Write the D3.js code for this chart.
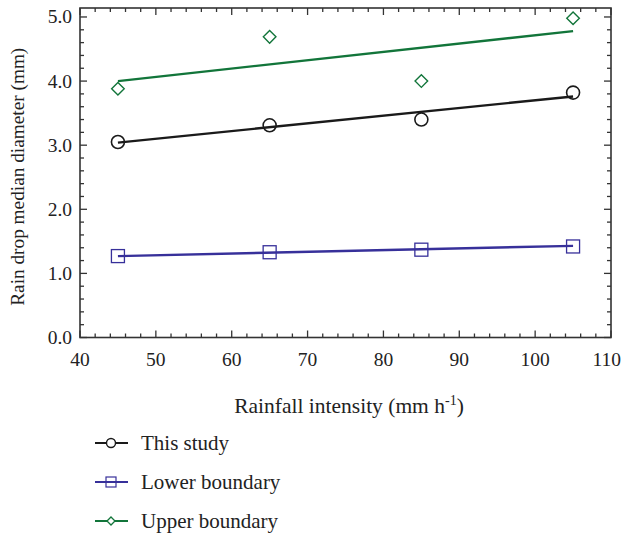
<!DOCTYPE html>
<html>
<head>
<meta charset="utf-8">
<script src="https://cdn.jsdelivr.net/npm/d3@7"></script>
<style>
  body { margin: 0; background: #fff; }
  text { font-family: "Liberation Serif", "DejaVu Serif", serif; fill: #222; }
</style>
</head>
<body>
<svg width="622" height="535"></svg>
<script>
// rainfall intensity (mm/h)
const intensity = [45, 65, 85, 105]

// measured / reported median diameters (mm)
const thisStudy = [3.05, 3.31, 3.40, 3.82]
const lowerBound = [1.27, 1.33, 1.37, 1.42]
const upperBound = [3.88, 4.69, 4.00, 4.98]

// fitted trend lines, [x, y] at ends
const fitThis = [[45, 3.04], [105, 3.76]]
const fitLower = [[45, 1.27], [105, 1.43]]
const fitUpper = [[45, 4.00], [105, 4.78]]

const xTicks = [40, 50, 60, 70, 80, 90, 100, 110]
const yTicks = [0, 1, 2, 3, 4, 5]

const series = [
    { name: "This study", values: thisStudy, fit: fitThis, color: "#1a1a1a", shape: "circle" },
    { name: "Lower boundary", values: lowerBound, fit: fitLower, color: "#37309a", shape: "square" },
    { name: "Upper boundary", values: upperBound, fit: fitUpper, color: "#12753a", shape: "diamond" }
]

const svg = d3.select("svg")
const pLeft = 80, pRight = 611, pTop = 8, pBottom = 337.5

const x = d3.scaleLinear().domain([40, 110]).range([pLeft, pRight])
const y = d3.scaleLinear().domain([0, 5.14]).range([pBottom, pTop])

const g = svg.append("g")

// ticks pointing inward on all four sides
const xMinor = d3.range(40, 110.01, 2)
const yMinor = d3.range(0, 5.141, 0.2)

function tickLines(vals, isMajor, horiz) {
    vals.forEach(v => {
        let len = isMajor(v) ? 7 : 4
        if (horiz) {
            g.append("line").attr("x1", x(v)).attr("x2", x(v)).attr("y1", pBottom).attr("y2", pBottom - len)
                .attr("stroke", "#333").attr("stroke-width", 1.3)
            g.append("line").attr("x1", x(v)).attr("x2", x(v)).attr("y1", pTop).attr("y2", pTop + len)
                .attr("stroke", "#333").attr("stroke-width", 1.3)
        } else {
            g.append("line").attr("y1", y(v)).attr("y2", y(v)).attr("x1", pLeft).attr("x2", pLeft + len)
                .attr("stroke", "#333").attr("stroke-width", 1.3)
            g.append("line").attr("y1", y(v)).attr("y2", y(v)).attr("x1", pRight).attr("x2", pRight - len)
                .attr("stroke", "#333").attr("stroke-width", 1.3)
        }
    })
}
tickLines(xMinor, v => Math.abs(v % 10) < 0.01, true)
tickLines(yMinor, v => Math.abs(v - Math.round(v)) < 0.01, false)

g.append("rect")
    .attr("x", pLeft).attr("y", pTop)
    .attr("width", pRight - pLeft).attr("height", pBottom - pTop)
    .attr("fill", "none").attr("stroke", "#333").attr("stroke-width", 1.6)

// tick labels
g.selectAll(".xl").data(xTicks).join("text")
    .attr("class", "xl")
    .attr("x", d => x(d)).attr("y", pBottom + 28)
    .attr("text-anchor", "middle").attr("font-size", 19.5)
    .text(d => d)

// keep the last label inside the page
g.selectAll(".xl").each(function () {
    let b = this.getBBox()
    if (b.x + b.width > 621) {
        d3.select(this).attr("x", +d3.select(this).attr("x") - (b.x + b.width - 621))
    }
})

g.selectAll(".yl").data(yTicks).join("text")
    .attr("class", "yl")
    .attr("x", pLeft - 8).attr("y", d => y(d) + 6.5)
    .attr("text-anchor", "end").attr("font-size", 19.5)
    .text(d => d.toFixed(1))

// axis titles
const xt = svg.append("text")
    .attr("x", 349).attr("y", 413)
    .attr("text-anchor", "middle").attr("font-size", 21.5)
xt.append("tspan").text("Rainfall intensity (mm h")
xt.append("tspan").attr("font-size", 14).attr("dy", -8).text("-1")
xt.append("tspan").attr("dy", 8).text(")")

svg.append("text")
    .attr("transform", `translate(24, ${(pTop + pBottom) / 2 + 4}) rotate(-90)`)
    .attr("text-anchor", "middle").attr("font-size", 19.3)
    .text("Rain drop median diameter (mm)")

function drawMarker(sel, shape, color, cx, cy) {
    if (shape == "circle") {
        sel.append("circle").attr("cx", cx).attr("cy", cy).attr("r", 6.5)
            .attr("fill", "none").attr("stroke", color).attr("stroke-width", 1.6)
    } else if (shape == "square") {
        sel.append("rect").attr("x", cx - 6.5).attr("y", cy - 6.5).attr("width", 13).attr("height", 13)
            .attr("fill", "none").attr("stroke", color).attr("stroke-width", 1.3)
    } else {
        let s = 6.3
        sel.append("path").attr("d", `M${cx},${cy - s}L${cx + s},${cy}L${cx},${cy + s}L${cx - s},${cy}Z`)
            .attr("fill", "none").attr("stroke", color).attr("stroke-width", 1.4)
    }
}

const line = d3.line().x(d => x(d[0])).y(d => y(d[1]))

series.forEach(s => {
    g.append("path").attr("d", line(s.fit))
        .attr("fill", "none").attr("stroke", s.color).attr("stroke-width", 2.4)
    s.values.forEach((v, i) => drawMarker(g, s.shape, s.color, x(intensity[i]), y(v)))
})

// legend
const legend = svg.append("g")
series.forEach((s, i) => {
    let ly = 443 + i * 39
    legend.append("line").attr("x1", 95).attr("x2", 128).attr("y1", ly).attr("y2", ly)
        .attr("stroke", s.color).attr("stroke-width", 2)
    let m = legend.append("g")
    if (s.shape == "circle") {
        m.append("circle").attr("cx", 111).attr("cy", ly).attr("r", 4.5)
            .attr("fill", "#fff").attr("stroke", s.color).attr("stroke-width", 1.4)
    } else if (s.shape == "square") {
        m.append("rect").attr("x", 106).attr("y", ly - 5).attr("width", 10).attr("height", 10)
            .attr("fill", "none").attr("stroke", s.color).attr("stroke-width", 1.2)
    } else {
        m.append("path").attr("d", `M111,${ly - 4}L115,${ly}L111,${ly + 4}L107,${ly}Z`)
            .attr("fill", "#fff").attr("stroke", s.color).attr("stroke-width", 1.3)
    }
    legend.append("text").attr("x", 141).attr("y", ly + 6.5).attr("font-size", 21).text(s.name)
})
</script>
</body>
</html>
